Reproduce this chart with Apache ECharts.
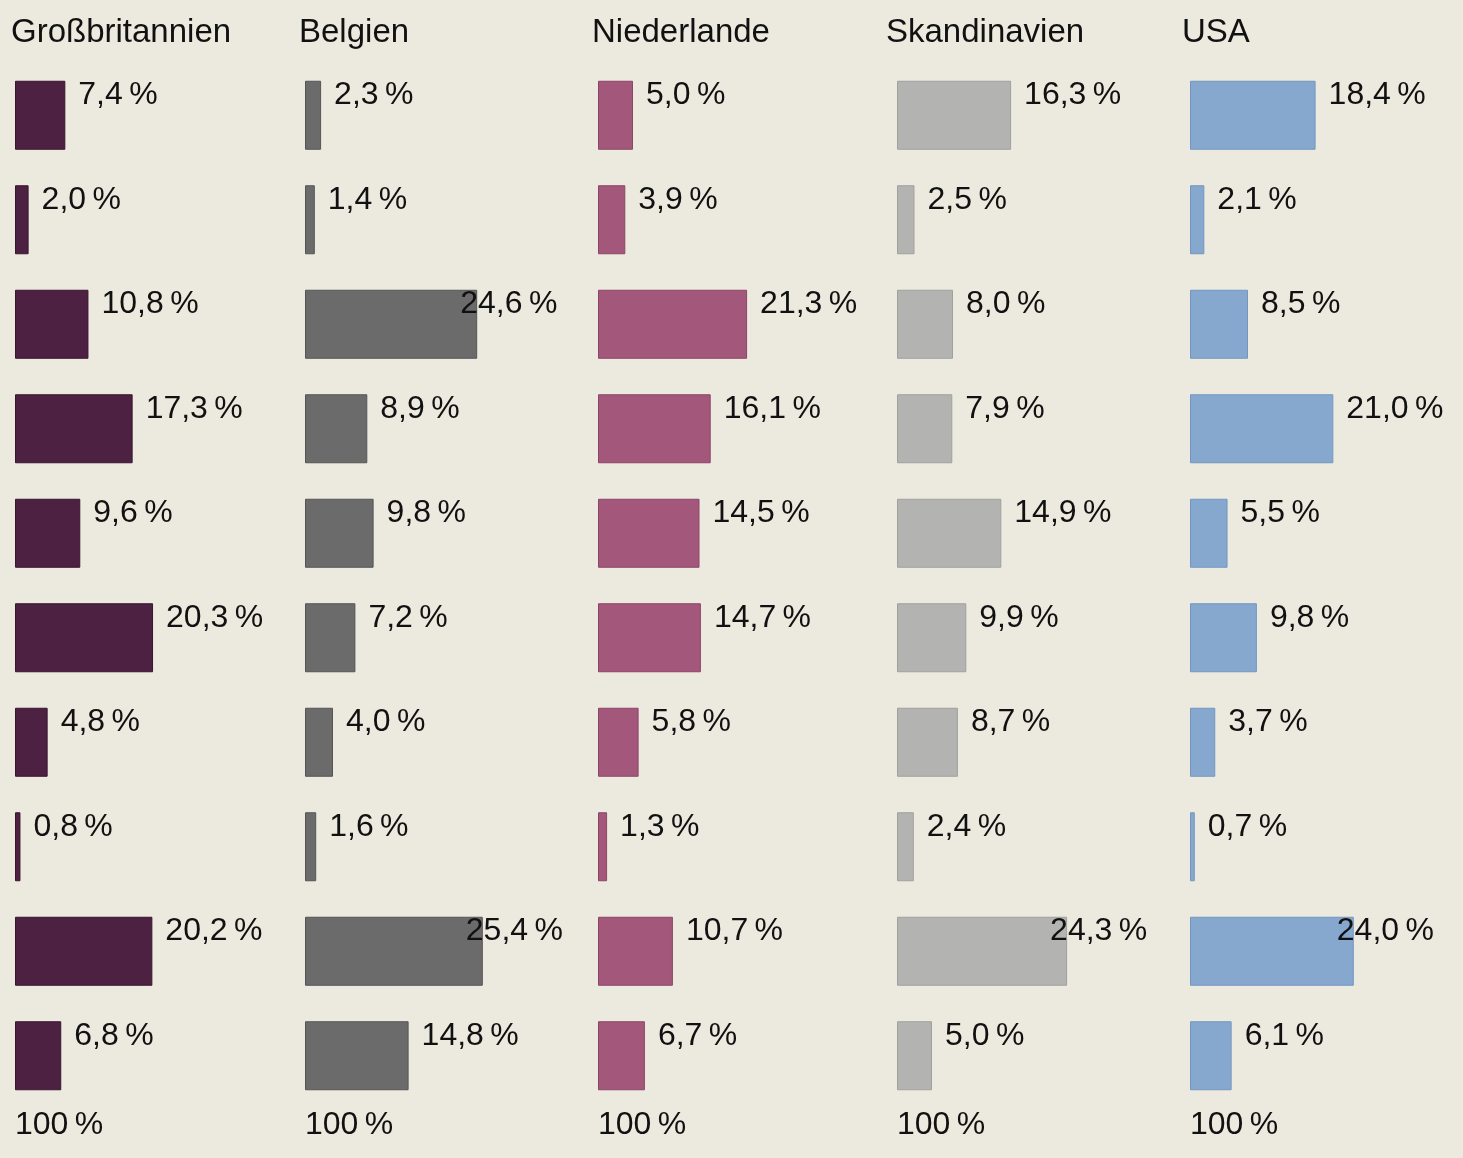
<!DOCTYPE html>
<html>
<head>
<meta charset="utf-8">
<script src="https://cdn.jsdelivr.net/npm/echarts@6/dist/echarts.min.js"></script>
<style>
  html, body { margin: 0; padding: 0; background: #eceadf; }
  #chart { width: 1463px; height: 1158px; }
</style>
</head>
<body>
<div id="chart"></div>
<script>
// Länder (Spalten) und Anteile je Zeile in %
const countries = ['Großbritannien', 'Belgien', 'Niederlande', 'Skandinavien', 'USA']
const rows = ['1', '2', '3', '4', '5', '6', '7', '8', '9', '10']

const grossbritannien = [7.4, 2.0, 10.8, 17.3, 9.6, 20.3, 4.8, 0.8, 20.2, 6.8]
const belgien = [2.3, 1.4, 24.6, 8.9, 9.8, 7.2, 4.0, 1.6, 25.4, 14.8]
const niederlande = [5.0, 3.9, 21.3, 16.1, 14.5, 14.7, 5.8, 1.3, 10.7, 6.7]
const skandinavien = [16.3, 2.5, 8.0, 7.9, 14.9, 9.9, 8.7, 2.4, 24.3, 5.0]
const usa = [18.4, 2.1, 8.5, 21.0, 5.5, 9.8, 3.7, 0.7, 24.0, 6.1]

const totalLabel = '100\u2009%'

const allValues = [grossbritannien, belgien, niederlande, skandinavien, usa]
const colors = ['#4d2141', '#6b6b6b', '#a3587b', '#b3b3b1', '#86a8cf']
const borders = ['#3a1530', '#555555', '#8c4566', '#a0a09e', '#7396c0']

// Spaltenlage
const lefts = [15, 305, 598, 897, 1190]
const widths = [272, 280, 280, 280, 280]
const titleLefts = [6, 294, 587, 881, 1177]

const font = '"Liberation Sans", Arial, Helvetica, sans-serif'

const chart = echarts.init(document.getElementById('chart'))

function pct (v) {
  return v.toFixed(1).replace('.', ',') + '\u2009%'
}

const grid = [], xAxis = [], yAxis = [], series = [], title = []

countries.forEach((name, i) => {
  grid.push({ left: lefts[i], width: widths[i], top: 63, height: 1045 })
  xAxis.push({
    gridIndex: i, type: 'value', min: 0, max: 40,
    show: false
  })
  yAxis.push({
    gridIndex: i, type: 'category', data: rows, inverse: true,
    show: false
  })
  series.push({
    type: 'bar',
    xAxisIndex: i,
    yAxisIndex: i,
    barWidth: 69,
    itemStyle: { color: colors[i], borderColor: borders[i], borderWidth: 1 },
    label: {
      show: true,
      position: 'right',
      distance: 13,
      offset: [0, -20],
      color: '#111',
      fontFamily: font,
      fontSize: 32,
      formatter: p => pct(p.value)
    },
    // sehr lange Balken: Beschriftung ragt in den Balken hinein
    data: allValues[i].map(v => v >= 24 ? { value: v, label: { offset: [-30, -20] } } : v)
  })
  title.push({
    text: name,
    left: titleLefts[i],
    top: 11,
    textStyle: { color: '#111', fontFamily: font, fontSize: 33, fontWeight: 'normal' }
  })
  title.push({
    text: totalLabel,
    left: lefts[i] - 5,
    top: 1104,
    textStyle: { color: '#111', fontFamily: font, fontSize: 32, fontWeight: 'normal' }
  })
})

chart.setOption({
  backgroundColor: '#eceadf',
  animation: false,
  title: title,
  grid: grid,
  xAxis: xAxis,
  yAxis: yAxis,
  series: series
})
</script>
</body>
</html>
